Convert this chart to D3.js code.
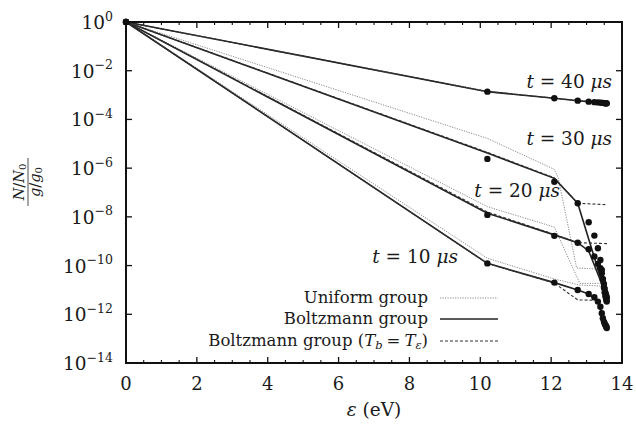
<!DOCTYPE html>
<html>
<head>
<meta charset="utf-8">
<script src="https://cdn.jsdelivr.net/npm/d3@7"></script>
<style>
  html, body { margin: 0; padding: 0; background: #fff; }
  svg { display: block; }
  text { font-family: "DejaVu Serif", "Liberation Serif", serif; fill: #1a1a1a; }
</style>
</head>
<body>
<svg id="chart" width="636" height="427"></svg>
<script>
// Energy of each level above the ground state (eV)
const levelEnergy = [0, 10.20, 12.09, 12.75, 13.06, 13.22, 13.32, 13.39, 13.43, 13.46, 13.49, 13.51, 13.53, 13.55, 13.56, 13.57];

// Reference populations, log10((N/N0)/(g/g0)), one row per time
const dotsT10 = [0, -9.91, -10.70, -11.00, -11.17, -11.30, -11.48, -11.69, -11.96, -12.16, -12.30, -12.38, -12.44, -12.48, -12.52, -12.56];
const dotsT20 = [0, -7.92, -8.78, -9.06, -9.33, -9.63, -9.93, -10.11, -10.32, -10.55, -10.75, -10.95, -11.10, -11.20, -11.28, -11.32];
const dotsT30 = [0, -5.62, -6.56, -7.44, -8.22, -8.77, -9.29, -9.77, -10.18, -10.59, -10.90, -11.10, -11.25, -11.35, -11.42, -11.48];
const dotsT40 = [0, -2.86, -3.13, -3.23, -3.27, -3.29, -3.30, -3.31, -3.32, -3.32, -3.33, -3.33, -3.34, -3.34, -3.34, -3.34];

// Grouped-model curves: [energy eV, log10 population]
const uniformT10 = [[0, 0], [10.2, -9.70], [12.09, -10.55], [12.8, -10.80], [13.55, -10.85]];
const uniformT20 = [[0, 0], [10.2, -7.58], [12.09, -8.42], [12.81, -10.73], [13.45, -10.73]];
const uniformT30 = [[0, 0], [10.2, -4.78], [12.09, -6.05], [12.2, -6.40], [12.72, -10.10], [13.38, -10.15]];
const uniformT40 = [[0, 0], [10.2, -2.84], [12.09, -3.12], [12.75, -3.22], [13.58, -3.34]];

const boltzT10 = [[0, 0], [10.2, -9.91], [12.09, -10.70], [12.75, -11.00], [13.06, -11.17], [13.32, -11.48], [13.46, -12.10], [13.58, -12.45]];
const boltzT20 = [[0, 0], [10.2, -7.85], [12.09, -8.74], [12.75, -9.06], [13.06, -9.40], [13.58, -11.30]];
const boltzT30 = [[0, 0], [10.2, -5.38], [12.09, -6.42], [12.75, -7.44], [13.50, -11.00]];
const boltzT40 = [[0, 0], [10.2, -2.86], [12.09, -3.13], [12.75, -3.23], [13.06, -3.27], [13.58, -3.34]];

const boltzEqT10 = [[0, 0], [10.2, -9.91], [12.09, -10.72], [12.75, -11.41], [13.10, -11.42], [13.40, -11.45]];
const boltzEqT20 = [[0, 0], [10.2, -7.80], [12.09, -8.72], [12.75, -9.06], [13.58, -9.10]];
const boltzEqT30 = [[0, 0], [10.2, -5.35], [12.09, -6.40], [12.75, -7.44], [13.58, -7.50]];
const boltzEqT40 = [[0, 0], [10.2, -2.86], [12.09, -3.13], [12.75, -3.23], [13.58, -3.34]];

// Axis ticks
const xTicks = [0, 2, 4, 6, 8, 10, 12, 14];
const yTickExponents = [0, -2, -4, -6, -8, -10, -12, -14];

// Curve labels: time, right-end energy and baseline log10 value
const labelTimes = ["40", "30", "20", "10"];
const labelEndEnergy = [13.72, 13.72, 12.25, 9.37];
const labelLogValue = [-2.72, -5.05, -7.18, -9.9];

const legendNames = ["Uniform group", "Boltzmann group", "Boltzmann group (T_b = T_ε)"];

const svg = d3.select("#chart");
const margin = { left: 126, right: 14, top: 22, bottom: 64 };
const W = 636, H = 427;

const x = d3.scaleLinear().domain([0, 14]).range([margin.left, W - margin.right]);
const y = d3.scaleLog().domain([1e-14, 1]).range([H - margin.bottom, margin.top]);

const X0 = x(0), X1 = x(14), Y0 = y(1e-14), Y1 = y(1);

const line = d3.line().x(d => x(d[0])).y(d => y(Math.pow(10, d[1])));

// Uniform group (dotted grey)
[uniformT10, uniformT20, uniformT30, uniformT40].forEach(c => {
  svg.append("path").attr("d", line(c)).attr("fill", "none")
    .attr("stroke", "#8a8a8a").attr("stroke-width", 1).attr("stroke-dasharray", "1.2,1.3");
});

// Boltzmann group (solid)
[boltzT10, boltzT20, boltzT30, boltzT40].forEach(c => {
  svg.append("path").attr("d", line(c)).attr("fill", "none")
    .attr("stroke", "#222").attr("stroke-width", 1.6);
});

// Boltzmann group with Tb = Te (dashed)
[boltzEqT10, boltzEqT20, boltzEqT30, boltzEqT40].forEach(c => {
  svg.append("path").attr("d", line(c)).attr("fill", "none")
    .attr("stroke", "#333").attr("stroke-width", 1.1).attr("stroke-dasharray", "3,2");
});

// Reference level populations
[dotsT10, dotsT20, dotsT30, dotsT40].forEach(row => {
  svg.append("g").selectAll("circle").data(row).join("circle")
    .attr("cx", (d, i) => x(levelEnergy[i]))
    .attr("cy", d => y(Math.pow(10, d)))
    .attr("r", 3.2).attr("fill", "#111");
});

// Frame
svg.append("rect").attr("x", X0).attr("y", Y1).attr("width", X1 - X0).attr("height", Y0 - Y1)
  .attr("fill", "none").attr("stroke", "#111").attr("stroke-width", 2);

// x ticks (major + minor) on bottom and top, pointing inward
const xMinor = d3.range(0, 14.01, 0.5).filter(v => !xTicks.includes(v));
const tickG = svg.append("g").attr("stroke", "#111");
xTicks.forEach(v => {
  tickG.append("line").attr("x1", x(v)).attr("x2", x(v)).attr("y1", Y0).attr("y2", Y0 - 6).attr("stroke-width", 1.3);
  tickG.append("line").attr("x1", x(v)).attr("x2", x(v)).attr("y1", Y1).attr("y2", Y1 + 6).attr("stroke-width", 1.3);
});
xMinor.forEach(v => {
  tickG.append("line").attr("x1", x(v)).attr("x2", x(v)).attr("y1", Y0).attr("y2", Y0 - 3).attr("stroke-width", 1.1);
  tickG.append("line").attr("x1", x(v)).attr("x2", x(v)).attr("y1", Y1).attr("y2", Y1 + 3).attr("stroke-width", 1.1);
});
// y ticks on left and right
yTickExponents.forEach(e => {
  const yy = y(Math.pow(10, e));
  tickG.append("line").attr("x1", X0).attr("x2", X0 + 6).attr("y1", yy).attr("y2", yy).attr("stroke-width", 1.3);
  tickG.append("line").attr("x1", X1).attr("x2", X1 - 6).attr("y1", yy).attr("y2", yy).attr("stroke-width", 1.3);
});

// x tick labels
svg.append("g").selectAll("text").data(xTicks).join("text")
  .attr("x", d => x(d)).attr("y", Y0 + 27)
  .attr("text-anchor", "middle").attr("font-size", 18).text(d => d);

// y tick labels 10^e
yTickExponents.forEach(e => {
  const t = svg.append("text").attr("x", X0 - 13).attr("y", y(Math.pow(10, e)) + 7)
    .attr("text-anchor", "end").attr("font-size", 18.5);
  t.append("tspan").text("10");
  t.append("tspan").attr("dy", -8.5).attr("font-size", 12.5).text(e === 0 ? "0" : "−" + (-e));
});

// x axis title
const xt = svg.append("text").attr("x", (X0 + X1) / 2).attr("y", 416).attr("text-anchor", "middle").attr("font-size", 18.5);
xt.append("tspan").attr("font-style", "italic").text("ε");
xt.append("tspan").text(" (eV)");

// y axis title: (N/N0)/(g/g0) rotated
const yl = svg.append("g").attr("transform", "translate(28,182) rotate(-90)");
const num = yl.append("text").attr("x", 0).attr("y", -4).attr("text-anchor", "middle").attr("font-size", 14.5);
num.append("tspan").attr("font-style", "italic").text("N");
num.append("tspan").text("/");
num.append("tspan").attr("font-style", "italic").text("N");
num.append("tspan").attr("font-size", 10).attr("dy", 2).text("0");
yl.append("line").attr("x1", -24).attr("x2", 24).attr("y1", 0).attr("y2", 0).attr("stroke", "#222").attr("stroke-width", 0.8);
const den = yl.append("text").attr("x", 0).attr("y", 12).attr("text-anchor", "middle").attr("font-size", 14.5);
den.append("tspan").attr("font-style", "italic").text("g");
den.append("tspan").text("/");
den.append("tspan").attr("font-style", "italic").text("g");
den.append("tspan").attr("font-size", 10).attr("dy", 2).text("0");

// Curve labels "t = .. μs"
labelTimes.forEach((tm, i) => {
  const t = svg.append("text").attr("x", x(labelEndEnergy[i])).attr("y", y(Math.pow(10, labelLogValue[i])))
    .attr("text-anchor", "end").attr("font-size", 18.5);
  t.append("tspan").attr("font-style", "italic").text("t");
  t.append("tspan").text(" = " + tm + " ");
  t.append("tspan").attr("font-style", "italic").text("μs");
});

// Legend
const legY = [303, 324, 346];
const legStyles = [
  { stroke: "#8a8a8a", w: 1, dash: "1.2,1.3" },
  { stroke: "#222", w: 1.6, dash: null },
  { stroke: "#333", w: 1.1, dash: "3,2" }
];
legendNames.forEach((name, i) => {
  const t = svg.append("text").attr("x", 428).attr("y", legY[i]).attr("text-anchor", "end").attr("font-size", 16.5);
  if (name.includes("T_b")) {
    t.append("tspan").text("Boltzmann group (");
    t.append("tspan").attr("font-style", "italic").text("T");
    t.append("tspan").attr("font-size", 11.5).attr("font-style", "italic").attr("dy", 3).text("b");
    t.append("tspan").attr("dy", -3).attr("dx", 4).text("=");
    t.append("tspan").attr("dx", 4).attr("font-style", "italic").text("T");
    t.append("tspan").attr("font-size", 11.5).attr("font-style", "italic").attr("dy", 3).text("ε");
    t.append("tspan").attr("dy", -3).text(")");
  } else {
    t.text(name);
  }
  const s = legStyles[i];
  svg.append("line").attr("x1", 440).attr("x2", 498).attr("y1", legY[i] - 5).attr("y2", legY[i] - 5)
    .attr("stroke", s.stroke).attr("stroke-width", s.w).attr("stroke-dasharray", s.dash);
});
</script>
</body>
</html>
